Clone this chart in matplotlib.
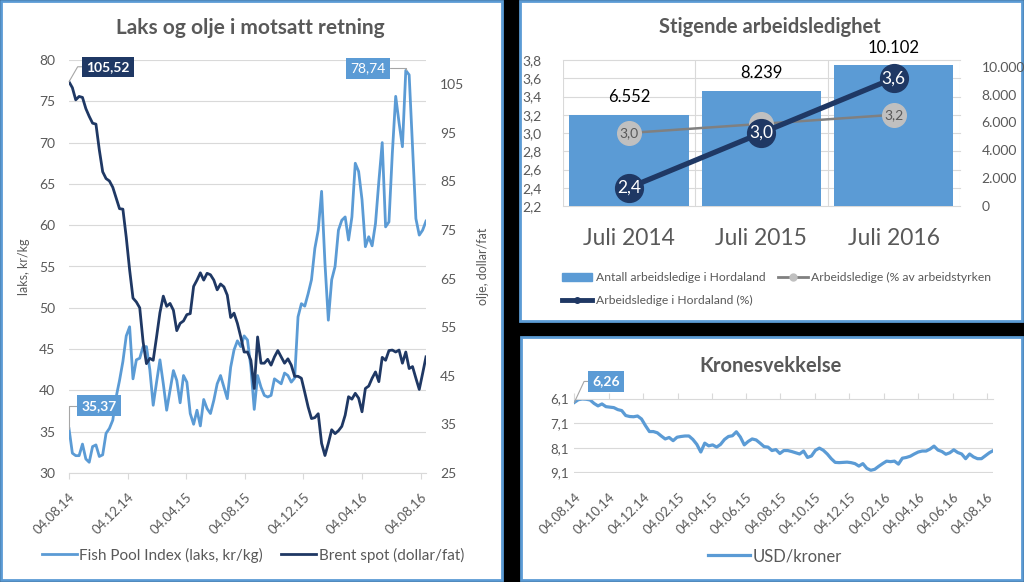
import numpy as np
import pandas as pd
import matplotlib
matplotlib.use('Agg')
import matplotlib.pyplot as plt
import matplotlib.dates as mdates
import matplotlib.transforms as mtransforms
from matplotlib.patches import Rectangle, Patch
from matplotlib.lines import Line2D
from matplotlib.ticker import FuncFormatter

plt.rcParams['font.family'] = ['Lato', 'DejaVu Sans']

W, H = 1024, 582
LIGHT = '#5b9bd5'
NAVY = '#1f3864'
TXT = '#595959'
GRID = '#d9d9d9'

# --- data: weekly values ---
laks = [35.37, 32.4, 32.1, 32.1, 33.5, 31.7, 31.3, 33.2, 33.4, 32.0,
        32.2, 34.8, 35.4, 36.4, 39.2, 41.2, 43.5, 46.6, 47.7, 41.4,
        43.7, 43.9, 45.3, 45.3, 42.5, 38.2, 41.0, 43.7, 40.8, 37.6,
        40.0, 42.4, 41.2, 38.5, 41.8, 41.0, 37.2, 35.9, 37.6, 35.7,
        38.9, 37.8, 37.2, 38.8, 40.8, 41.8, 40.4, 39.0, 42.8, 44.9,
        46.0, 45.3, 46.6, 46.1, 42.8, 37.7, 41.8, 40.4, 39.4, 39.2,
        39.4, 41.4, 41.1, 40.8, 42.1, 41.8, 41.0, 41.5, 48.9, 50.5,
        50.2, 51.7, 53.4, 57.2, 59.4, 64.1, 55.4, 48.5, 53.4, 55.0,
        59.4, 60.6, 61.0, 58.2, 61.0, 67.5, 66.5, 63.1, 57.4, 58.6,
        57.5, 60.2, 65.3, 70.0, 59.8, 60.4, 68.7, 75.6, 72.4, 69.5,
        78.74, 78.2, 69.5, 60.8, 58.8, 59.4, 60.5]

brent = [105.52, 104.3, 101.8, 102.5, 102.3, 100.0, 98.4, 97.0, 96.8, 91.5,
         87.0, 85.6, 85.1, 83.8, 81.6, 79.4, 79.3, 73.5, 66.8, 61.0,
         60.2, 59.0, 52.0, 47.5, 48.6, 48.2, 53.0, 58.0, 61.4, 59.3,
         59.9, 58.5, 54.3, 55.8, 56.3, 57.6, 57.8, 63.4, 64.7, 66.2,
         64.7, 66.1, 65.8, 64.7, 62.7, 63.9, 63.3, 61.6, 57.0, 57.9,
         55.8, 53.0, 49.9, 49.9, 48.2, 42.4, 53.0, 47.6, 47.6, 48.4,
         47.2, 48.9, 50.2, 48.9, 47.6, 48.5, 47.2, 44.9, 44.9, 44.5,
         41.6, 38.6, 36.2, 36.4, 37.2, 31.1, 28.6, 31.1, 33.9, 33.1,
         33.7, 34.6, 36.9, 40.7, 40.2, 41.4, 40.4, 37.6, 42.4, 42.9,
         44.5, 45.8, 43.8, 48.8, 48.2, 50.2, 50.3, 49.9, 50.3, 47.6,
         49.9, 46.5, 46.9, 44.5, 42.2, 45.5, 48.9]

usdnok = [6.26, 6.15, 6.12, 6.13, 6.16, 6.30, 6.40, 6.32, 6.43, 6.45,
          6.47, 6.55, 6.59, 6.79, 6.83, 6.84, 6.81, 6.93, 7.20, 7.44,
          7.44, 7.49, 7.62, 7.74, 7.68, 7.81, 7.67, 7.64, 7.62, 7.62,
          7.76, 7.96, 8.27, 7.91, 8.02, 7.98, 8.07, 7.96, 7.76, 7.64,
          7.61, 7.45, 7.66, 7.98, 7.84, 7.74, 7.78, 7.91, 8.05, 8.07,
          8.21, 8.17, 8.33, 8.21, 8.21, 8.25, 8.30, 8.35, 8.23, 8.49,
          8.43, 8.20, 8.11, 8.20, 8.35, 8.54, 8.69, 8.70, 8.69, 8.68,
          8.70, 8.74, 8.84, 8.74, 8.93, 9.01, 8.97, 8.85, 8.74, 8.64,
          8.66, 8.64, 8.76, 8.52, 8.49, 8.44, 8.35, 8.27, 8.23, 8.23,
          8.15, 8.03, 8.19, 8.25, 8.36, 8.30, 8.18, 8.29, 8.35, 8.54,
          8.35, 8.47, 8.54, 8.54, 8.42, 8.30, 8.21]

uker = pd.date_range('2014-08-04', periods=len(laks), freq='7D')
kr_uker = pd.date_range('2014-08-04', periods=len(usdnok), freq='7D')

kategorier = ['Juli 2014', 'Juli 2015', 'Juli 2016']
antall = [6552, 8239, 10102]
pst_arbeidsstyrke = [3.0, 3.1, 3.2]
pst_hordaland = [2.4, 3.0, 3.6]


def komma(v, pos=None):
    return f'{v:.1f}'.replace('.', ',')


def komma2(v):
    return f'{v:.2f}'.replace('.', ',')


def tusen(v, pos=None):
    return f'{int(v):,}'.replace(',', '.')


def px_box(x0, y0, x1, y1):
    return [x0 / W, 1 - y1 / H, (x1 - x0) / W, (y1 - y0) / H]


fig = plt.figure(figsize=(W / 100, H / 100), dpi=100, facecolor='black')

# white panels with blue frame
for x0, y0, x1, y1 in [(1, 1, 502, 580), (520, 1, 1022, 321), (521, 337, 1022, 580)]:
    fig.add_artist(Rectangle((x0 / W, 1 - y1 / H), (x1 - x0) / W, (y1 - y0) / H,
                             transform=fig.transFigure, facecolor='white',
                             edgecolor=LIGHT, lw=2, zorder=-1))

# ---------------- left: salmon vs oil ----------------
ax1 = fig.add_axes(px_box(69, 60, 426, 473))
ax1.set_facecolor('none')
l_laks, = ax1.plot(uker, laks, color=LIGHT, lw=2, solid_joinstyle='round')
ax1.set_ylim(30, 80)
ax1.set_yticks(range(30, 81, 5))
ax1.set_xlim(uker[0], uker[-1])
ax1.set_xticks(pd.to_datetime(['2014-08-04', '2014-12-04', '2015-04-04', '2015-08-04',
                               '2015-12-04', '2016-04-04', '2016-08-04']))
ax1.xaxis.set_major_formatter(mdates.DateFormatter('%d.%m.%y'))
ax1.grid(axis='y', color=GRID, lw=0.8)
ax1.set_axisbelow(True)
for s in ['top', 'left', 'right']:
    ax1.spines[s].set_visible(False)
ax1.spines['bottom'].set_color(GRID)
ax1.tick_params(axis='x', color=GRID, length=4, labelcolor=TXT, labelsize=9.5, pad=9)
ax1.tick_params(axis='y', length=0, pad=10, labelcolor=TXT, labelsize=10)
plt.setp(ax1.get_xticklabels(), rotation=45, ha='right', rotation_mode='anchor')
ax1.set_ylabel('laks, kr/kg', color=TXT, fontsize=9)
ax1.yaxis.set_label_coords(-0.109, 0.5)

ax1b = ax1.twinx()
l_brent, = ax1b.plot(uker, brent, color=NAVY, lw=2, solid_joinstyle='round')
ax1b.set_ylim(25, 110)
ax1b.set_yticks(range(25, 106, 10))
for s in ax1b.spines.values():
    s.set_visible(False)
ax1b.tick_params(axis='y', length=0, pad=10, labelcolor=TXT, labelsize=10)
ax1b.set_ylabel('olje, dollar/fat', color=TXT, fontsize=9, rotation=90)
ax1b.yaxis.set_label_coords(1.143, 0.5)

leader = dict(arrowstyle='-', color='#a6a6a6', lw=0.8, shrinkA=0, shrinkB=0)
ax1b.annotate(komma2(brent[0]), xy=(uker[0], brent[0]), xytext=(39, 15),
              textcoords='offset pixels', ha='center', va='center', color='white',
              fontweight='bold', fontsize=10,
              bbox=dict(boxstyle='square,pad=0.3', fc=NAVY, ec='none'),
              arrowprops=dict(leader, connectionstyle='angle,angleA=0,angleB=60'))
imax = int(np.argmax(laks))
ax1.annotate(komma2(laks[imax]), xy=(uker[imax], laks[imax]), xytext=(-38, 2),
             textcoords='offset pixels', ha='center', va='center', color='white', fontsize=10,
             bbox=dict(boxstyle='square,pad=0.3', fc=LIGHT, ec='none'),
             arrowprops=dict(leader, connectionstyle='angle,angleA=0,angleB=90'))
ax1.annotate(komma2(laks[0]), xy=(uker[0], laks[0]), xytext=(30, 23),
             textcoords='offset pixels', ha='center', va='center', color='white',
             fontweight='bold', fontsize=10,
             bbox=dict(boxstyle='square,pad=0.3', fc=LIGHT, ec='none'),
             arrowprops=dict(leader, connectionstyle='angle,angleA=0,angleB=90'))

fig.text(250 / W, 1 - 28 / H, 'Laks og olje i motsatt retning', ha='center', va='center',
         fontsize=15, fontweight='bold', color=TXT)
fig.legend([l_laks, l_brent], ['Fish Pool Index (laks, kr/kg)', 'Brent spot (dollar/fat)'],
           loc='center', bbox_to_anchor=(253 / W, 1 - 555 / H), ncol=2, frameon=False,
           fontsize=11, labelcolor=TXT, handlelength=2.3, handletextpad=0.15,
           columnspacing=1.2, borderaxespad=0, borderpad=0)

# ---------------- top right: unemployment ----------------
ax2 = fig.add_axes(px_box(562.7, 60, 960, 206))
ax2.set_facecolor('none')
ax2l = ax2.twinx()

bars = ax2.bar(range(len(kategorier)), antall, width=0.9, color=LIGHT, zorder=2)
ax2.set_ylim(0, 10480)
ax2.set_yticks(range(0, 10001, 2000))
ax2.yaxis.set_major_formatter(FuncFormatter(tusen))
ax2.set_xlim(-0.5, len(kategorier) - 0.5)
ax2.set_xticks(range(len(kategorier)))
ax2.set_xticklabels(kategorier)
ax2.tick_params(axis='x', length=0, pad=16, labelcolor=TXT, labelsize=16.5)
ax2.tick_params(axis='y', left=False, labelleft=False, right=False, labelright=True,
                pad=12, labelcolor=TXT, labelsize=10)
for s in ax2.spines.values():
    s.set_visible(False)
ax2.bar_label(bars, labels=[tusen(v) for v in antall], padding=7, fontsize=12, color='black')

ax2l.set_ylim(2.2, 3.8)
ax2l.set_yticks(np.arange(2.2, 3.81, 0.2))
ax2l.yaxis.set_major_formatter(FuncFormatter(komma))
ax2l.tick_params(axis='y', left=False, labelleft=True, right=False, labelright=False,
                 pad=12, labelcolor=TXT, labelsize=10)
for s in ax2l.spines.values():
    s.set_visible(False)

# grid lines of the left axis, drawn behind the bars
gtrans = mtransforms.blended_transform_factory(ax2.transAxes, ax2l.transData)
for v in np.arange(2.2, 3.81, 0.2):
    ax2.plot([0, 1], [v, v], transform=gtrans, color=GRID, lw=0.8, zorder=1, clip_on=False)
for x in np.arange(-0.5, len(kategorier), 1.0):
    ax2.axvline(x, color=GRID, lw=0.8, zorder=1)

l_grey, = ax2l.plot(range(3), pst_arbeidsstyrke, color='#808080', lw=1.8, marker='o', ms=17,
                    mfc='#c0c0c0', mec='#c0c0c0', zorder=2)
l_navy, = ax2l.plot(range(3), pst_hordaland, color=NAVY, lw=3.8, marker='o', ms=20,
                    mfc=NAVY, mec=NAVY, zorder=3)
for i in (0, 2):
    ax2l.text(i, pst_arbeidsstyrke[i], komma(pst_arbeidsstyrke[i]), ha='center', va='center',
              color=TXT, fontsize=10, zorder=2.5)
for i, v in enumerate(pst_hordaland):
    ax2l.text(i, v, komma(v), ha='center', va='center', color='white', fontsize=12.5, zorder=4)

fig.text(770 / W, 1 - 27 / H, 'Stigende arbeidsledighet', ha='center', va='center',
         fontsize=14.5, fontweight='bold', color=TXT)
h_bar = Patch(color=LIGHT)
h_grey = Line2D([], [], color='#808080', lw=2, marker='o', ms=5, mfc='#c0c0c0', mec='#c0c0c0')
h_navy = Line2D([], [], color=NAVY, lw=3.5, marker='o', ms=4, mfc=NAVY, mec=NAVY)
fig.legend([h_bar, h_navy, h_grey],
           ['Antall arbeidsledige i Hordaland', 'Arbeidsledige i Hordaland (%)',
            'Arbeidsledige (% av arbeidstyrken'],
           loc='center left', bbox_to_anchor=(562 / W, 1 - 289 / H), ncol=2, frameon=False,
           fontsize=8.7, labelcolor=TXT, handlelength=2.5, handletextpad=0.3,
           columnspacing=1.0, labelspacing=0.95, borderaxespad=0, borderpad=0)

# ---------------- bottom right: NOK ----------------
ax3 = fig.add_axes(px_box(574.3, 398.5, 993.3, 472.5))
ax3.set_facecolor('none')
l_kr, = ax3.plot(kr_uker, usdnok, color=LIGHT, lw=2.3, solid_joinstyle='round')
ax3.set_ylim(9.1, 6.1)
ax3.set_yticks([6.1, 7.1, 8.1, 9.1])
ax3.yaxis.set_major_formatter(FuncFormatter(komma))
ax3.set_xlim(kr_uker[0], kr_uker[-1])
ax3.set_xticks(pd.date_range('2014-08-04', '2016-08-04', freq=pd.DateOffset(months=2)))
ax3.xaxis.set_major_formatter(mdates.DateFormatter('%d.%m.%y'))
ax3.grid(axis='y', color=GRID, lw=0.8)
ax3.set_axisbelow(True)
for s in ['bottom', 'left', 'right']:
    ax3.spines[s].set_visible(False)
ax3.spines['top'].set_color(GRID)
ax3.tick_params(axis='x', top=True, bottom=False, labeltop=False, labelbottom=True,
                color=GRID, length=4, labelcolor=TXT, labelsize=9.5, pad=9)
ax3.tick_params(axis='y', length=0, pad=4, labelcolor=TXT, labelsize=9.5)
plt.setp(ax3.get_xticklabels(), rotation=45, ha='right', rotation_mode='anchor')
ax3.annotate(komma2(usdnok[0]), xy=(kr_uker[0], usdnok[0]), xytext=(32, 21),
             textcoords='offset pixels', ha='center', va='center', color='white',
             fontweight='bold', fontsize=10,
             bbox=dict(boxstyle='square,pad=0.3', fc=LIGHT, ec='none'),
             arrowprops=dict(leader, connectionstyle='angle,angleA=0,angleB=65'))

fig.text(771 / W, 1 - 366 / H, 'Kronesvekkelse', ha='center', va='center',
         fontsize=14.5, fontweight='bold', color=TXT)
fig.legend([l_kr], ['USD/kroner'], loc='center', bbox_to_anchor=(775 / W, 1 - 556 / H),
           frameon=False, fontsize=12, labelcolor=TXT, handlelength=2.5, handletextpad=0.15,
           borderaxespad=0, borderpad=0)

fig.savefig('out.png', dpi=100, facecolor='black')
